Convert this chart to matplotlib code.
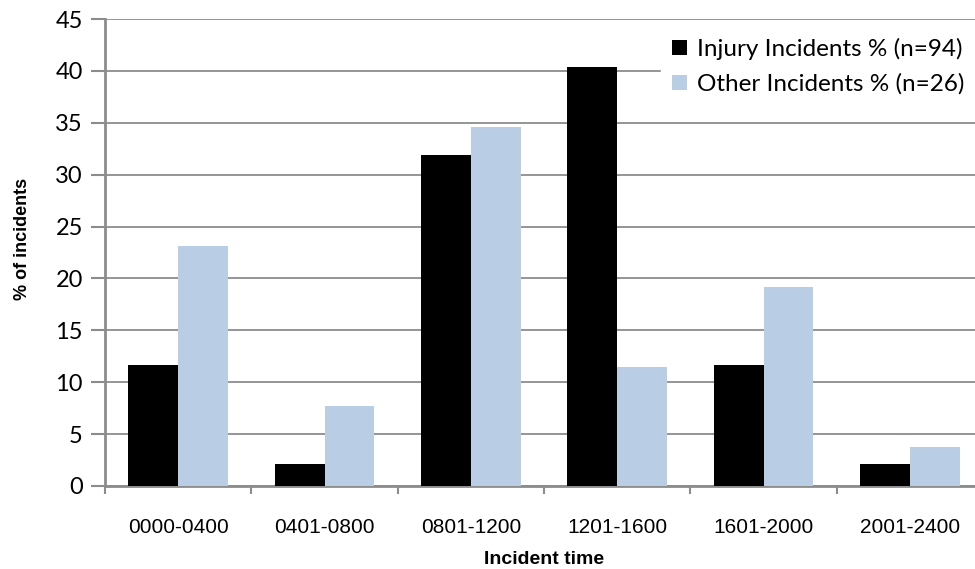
import numpy as np
import matplotlib.pyplot as plt

# data
categories = ["0000-0400", "0401-0800", "0801-1200", "1201-1600", "1601-2000", "2001-2400"]
injury = [11.7, 2.1, 31.9, 40.4, 11.7, 2.1]
other = [23.1, 7.7, 34.6, 11.5, 19.2, 3.8]

fig = plt.figure(figsize=(9.75, 5.69), dpi=100)
# axes runs a bit past the right edge, like the original
ax = fig.add_axes([105 / 975, 1 - 486 / 569, 878 / 975, 467 / 569])

x = np.arange(len(categories))
w = 0.34
ax.bar(x - w / 2, injury, w, color="black", label="Injury Incidents % (n=94)", zorder=3)
ax.bar(x + w / 2, other, w, color="#b9cde5", label="Other Incidents % (n=26)", zorder=3)

ax.set_xlim(-0.5, len(categories) - 0.5)
ax.set_ylim(0, 45)
ax.set_yticks(range(0, 46, 5))
ax.yaxis.grid(True, color="#8c8c8c", linewidth=1.3, zorder=0)

ax.set_xticks(x)
ax.set_xticklabels(categories, fontsize=15, family="Liberation Sans")
ax.set_xticks(np.arange(-0.5, len(categories)), minor=True)
ax.tick_params(axis="x", which="major", length=0, pad=23)
ax.tick_params(axis="x", which="minor", length=6, width=1.5, color="#8c8c8c")
ax.tick_params(axis="y", length=10, width=1.5, color="#8c8c8c", pad=6)
for lab in ax.get_yticklabels():
    lab.set_family("Lato")
    lab.set_fontsize(17)

for s in ["top", "right"]:
    ax.spines[s].set_visible(False)
for s in ["left", "bottom"]:
    ax.spines[s].set_color("#8c8c8c")
    ax.spines[s].set_linewidth(2)

ax.set_ylabel("% of incidents", fontsize=13, fontweight="bold", family="Liberation Sans")
ax.yaxis.set_label_coords(-0.084, 0.53)
ax.set_xlabel("Incident time", fontsize=14, fontweight="bold", family="Liberation Sans")
ax.xaxis.set_label_coords(0.5, -0.139)

leg = ax.legend(loc="upper left", frameon=True, fancybox=False, edgecolor="white", framealpha=1,
                prop={"family": "Lato", "size": 17.5}, handlelength=0.6, handleheight=0.6,
                handletextpad=0.45, labelspacing=0.55, borderpad=0.45, borderaxespad=0)
leg.set_bbox_to_anchor((661 / 975, 1 - 27 / 569), transform=fig.transFigure)
leg.set_zorder(5)

fig.savefig("out.png", dpi=100)
